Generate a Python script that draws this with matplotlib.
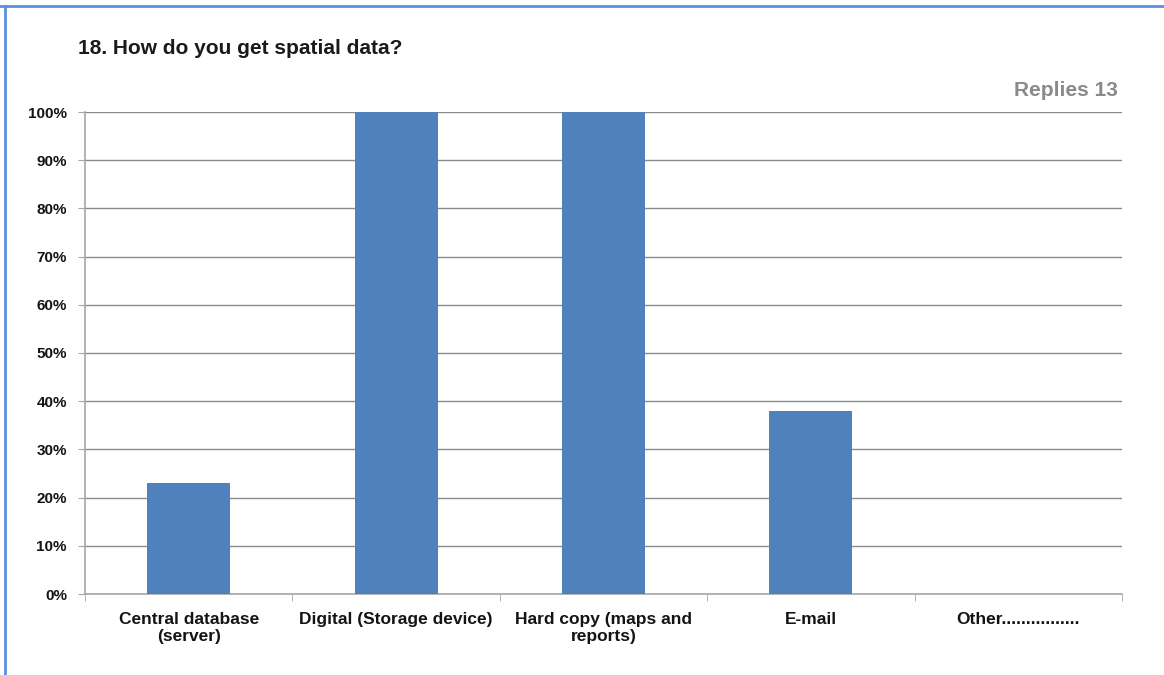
import matplotlib
matplotlib.use("Agg")
import matplotlib.pyplot as plt
from matplotlib.lines import Line2D
from matplotlib.ticker import FixedLocator

plt.rcParams['font.family'] = ['Liberation Sans', 'DejaVu Sans']

categories = ["Central database\n(server)", "Digital (Storage device)",
              "Hard copy (maps and\nreports)", "E-mail", "Other................"]
shares = [23, 100, 100, 38, 0]
y_ticks = [0, 10, 20, 30, 40, 50, 60, 70, 80, 90, 100]
title = "18. How do you get spatial data?"
replies = "Replies 13"

bar_color = "#4f81bd"
grid_color = "#8c8c8c"
axis_color = "#a6a6a6"
text_color = "#141414"

fig = plt.figure(figsize=(11.64, 6.75), dpi=100)
W, H = 1164, 675
left, right, top, bottom = 85, 1122, 112, 594
ax = fig.add_axes([left / W, 1 - bottom / H, (right - left) / W, (bottom - top) / H])

x = range(len(categories))
ax.bar(x, shares, width=0.4, color=bar_color, zorder=3)
ax.set_xlim(-0.5, len(categories) - 0.5)
ax.set_ylim(0, 100)

ax.set_yticks(y_ticks)
ax.set_yticklabels([f"{v}%" for v in y_ticks], fontsize=11, fontweight="bold",
                   color=text_color)
ax.yaxis.grid(True, color=grid_color, linewidth=1, zorder=0)
ax.tick_params(axis="y", length=5, color=axis_color, pad=8)

ax.set_xticks(list(x))
ax.set_xticklabels(categories, fontsize=12.5, fontweight="bold", linespacing=1.15,
                   color=text_color)
ax.tick_params(axis="x", length=0, pad=13)
ax.xaxis.set_minor_locator(FixedLocator([i - 0.5 for i in range(len(categories) + 1)]))
ax.tick_params(axis="x", which="minor", length=5, color=axis_color)

for s in ["top", "right"]:
    ax.spines[s].set_visible(False)
for s in ["left", "bottom"]:
    ax.spines[s].set_color(axis_color)
    ax.spines[s].set_linewidth(1.2)

fig.text(78 / W, 1 - 48 / H, title, fontsize=15, fontweight="bold",
         color="#1a1a1a", ha="left", va="center")
fig.text(1118 / W, 1 - 91 / H, replies, fontsize=15, fontweight="bold",
         color="#8a8a8a", ha="right", va="center")

# blue frame along top and left edges
fig.add_artist(Line2D([0, 1], [1 - 5.5 / H] * 2, transform=fig.transFigure,
                      color="#5b8fe0", linewidth=2))
fig.add_artist(Line2D([4.5 / W] * 2, [0, 1 - 5.5 / H], transform=fig.transFigure,
                      color="#5b8fe0", linewidth=2))

fig.savefig("out.png", dpi=100, facecolor="white")
